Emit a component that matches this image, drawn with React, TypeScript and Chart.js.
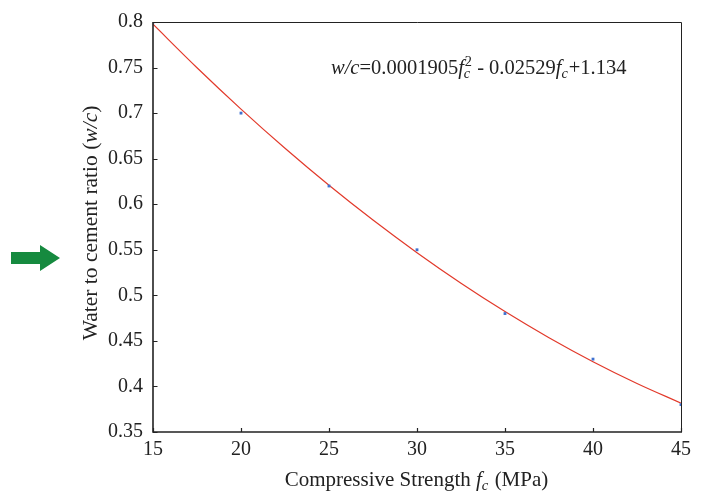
import React, { useEffect, useRef } from "react";
import { Chart, registerables } from "chart.js";

Chart.register(...registerables);

// Data
const strengthX = [15, 20, 25, 30, 35, 40, 45];
const ratioY = [0.8, 0.7, 0.62, 0.55, 0.48, 0.43, 0.38];
const fitX = [15, 17.5, 20, 22.5, 25, 27.5, 30, 32.5, 35, 37.5, 40, 42.5, 45];
const fitY = [0.7975, 0.7498, 0.7044, 0.6614, 0.6208, 0.5826, 0.5468, 0.5133, 0.4822, 0.4535, 0.4272, 0.4033, 0.3817];
const xTicks = [15, 20, 25, 30, 35, 40, 45];
const yTicks = [0.35, 0.4, 0.45, 0.5, 0.55, 0.6, 0.65, 0.7, 0.75, 0.8];
const yTickLabels = ["0.35", "0.4", "0.45", "0.5", "0.55", "0.6", "0.65", "0.7", "0.75", "0.8"];

const SERIF = "'Liberation Serif', 'Times New Roman', serif";

type Run = { t?: string; italic?: boolean; sub?: string; sup?: string };

function drawRuns(ctx: CanvasRenderingContext2D, runs: Run[], x: number, y: number, size: number, align: "left" | "center") {
  const font = (it: boolean, s: number) => `${it ? "italic " : ""}${s}px ${SERIF}`;
  const small = size * 0.7;
  const widths = runs.map((r) => {
    if (r.t !== undefined) {
      ctx.font = font(!!r.italic, size);
      return ctx.measureText(r.t).width;
    }
    let w = 0;
    ctx.font = font(true, small);
    if (r.sub) w = Math.max(w, ctx.measureText(r.sub).width);
    ctx.font = font(false, small);
    if (r.sup) w = Math.max(w, ctx.measureText(r.sup).width);
    return w + 1;
  });
  const total = widths.reduce((a, b) => a + b, 0);
  let cx = align === "center" ? x - total / 2 : x;
  ctx.textBaseline = "alphabetic";
  ctx.textAlign = "left";
  runs.forEach((r, i) => {
    if (r.t !== undefined) {
      ctx.font = font(!!r.italic, size);
      ctx.fillText(r.t, cx, y);
    } else {
      if (r.sub) {
        ctx.font = font(true, small);
        ctx.fillText(r.sub, cx, y + size * 0.2);
      }
      if (r.sup) {
        ctx.font = font(false, small);
        ctx.fillText(r.sup, cx + 1, y - size * 0.4);
      }
    }
    cx += widths[i];
  });
}

const decorPlugin = {
  id: "decor",
  afterDatasetsDraw(chart: any) {
    const ctx: CanvasRenderingContext2D = chart.ctx;
    const { left, right, top, bottom } = chart.chartArea;
    const xs = chart.scales.x;
    const ys = chart.scales.y;
    ctx.save();
    // frame
    ctx.strokeStyle = "#222";
    ctx.lineWidth = 1;
    ctx.beginPath();
    ctx.moveTo(left, top + 0.5);
    ctx.lineTo(right + 0.5, top + 0.5);
    ctx.lineTo(right + 0.5, bottom);
    ctx.stroke();
    ctx.lineWidth = 1.6;
    ctx.beginPath();
    ctx.moveTo(left, top);
    ctx.lineTo(left, bottom);
    ctx.lineTo(right + 1, bottom);
    ctx.stroke();
    // inward ticks
    ctx.lineWidth = 1.2;
    ctx.beginPath();
    yTicks.forEach((v) => {
      const py = Math.round(ys.getPixelForValue(v)) + 0.5;
      ctx.moveTo(left, py);
      ctx.lineTo(left + 4.5, py);
    });
    xTicks.forEach((v) => {
      const px = Math.round(xs.getPixelForValue(v)) + 0.5;
      ctx.moveTo(px, bottom);
      ctx.lineTo(px, bottom - 4);
    });
    ctx.stroke();

    ctx.fillStyle = "#222";
    // equation
    drawRuns(
      ctx,
      [
        { t: "w/c", italic: true },
        { t: "=0.0001905" },
        { t: "f", italic: true },
        { sub: "c", sup: "2" },
        { t: " - 0.02529" },
        { t: "f", italic: true },
        { sub: "c" },
        { t: "+1.134" },
      ],
      331,
      74,
      20.5,
      "left"
    );
    // x title
    drawRuns(
      ctx,
      [{ t: "Compressive Strength " }, { t: "f", italic: true }, { sub: "c" }, { t: " (MPa)" }],
      416.5,
      486,
      21,
      "center"
    );
    // y title
    ctx.save();
    ctx.translate(97, 223);
    ctx.rotate(-Math.PI / 2);
    drawRuns(ctx, [{ t: "Water to cement ratio (" }, { t: "w/c", italic: true }, { t: ")" }], 0, 0, 21.5, "center");
    ctx.restore();

    // green arrow
    ctx.fillStyle = "#168a3f";
    ctx.beginPath();
    ctx.moveTo(11, 252);
    ctx.lineTo(40, 252);
    ctx.lineTo(40, 245);
    ctx.lineTo(60, 258);
    ctx.lineTo(40, 271);
    ctx.lineTo(40, 264);
    ctx.lineTo(11, 264);
    ctx.closePath();
    ctx.fill();
    ctx.restore();
  },
};

export default function App() {
  const ref = useRef<HTMLCanvasElement>(null);
  useEffect(() => {
    if (!ref.current) return;
    const chart = new Chart(ref.current, {
      type: "scatter",
      data: {
        datasets: [
          {
            label: "points",
            data: strengthX.map((x, i) => ({ x, y: ratioY[i] })),
            pointStyle: "rect",
            pointRadius: 2,
            pointBackgroundColor: "#3f72d0",
            pointBorderWidth: 0,
            showLine: false,
            order: 0,
          },
          {
            label: "fit",
            data: fitX.map((x, i) => ({ x, y: fitY[i] })),
            showLine: true,
            borderColor: "#e2392a",
            borderWidth: 1.2,
            pointRadius: 0,
            cubicInterpolationMode: "monotone",
            order: 1,
          },
        ],
      },
      options: {
        animation: false,
        responsive: false,
        devicePixelRatio: 1,
        layout: { padding: { top: 17.5, right: 20, left: 0, bottom: 0 } },
        plugins: { legend: { display: false }, tooltip: { enabled: false } },
        scales: {
          x: {
            type: "linear",
            min: 15,
            max: 45,
            grid: { display: false, drawTicks: false },
            border: { display: false },
            afterBuildTicks: (s: any) => {
              s.ticks = xTicks.map((v) => ({ value: v }));
            },
            afterFit: (s: any) => {
              s.height = 64;
            },
            ticks: {
              color: "#222",
              padding: 6,
              maxRotation: 0,
              font: { family: SERIF, size: 20 },
              callback: (v: any) => String(v),
            },
          },
          y: {
            type: "linear",
            min: 0.35,
            max: 0.8,
            grid: { display: false, drawTicks: false },
            border: { display: false },
            afterBuildTicks: (s: any) => {
              s.ticks = yTicks.map((v) => ({ value: v }));
            },
            afterFit: (s: any) => {
              s.width = 153;
            },
            ticks: {
              color: "#222",
              padding: 10,
              font: { family: SERIF, size: 20 },
              callback: (_v: any, i: number) => yTickLabels[i],
            },
          },
        },
      },
      plugins: [decorPlugin],
    } as any);
    return () => chart.destroy();
  }, []);
  return (
    <div style={{ position: "absolute", left: 0, top: 0, width: 701, height: 496, background: "#fff" }}>
      <canvas ref={ref} width={701} height={496} style={{ width: 701, height: 496, display: "block" }} />
    </div>
  );
}
